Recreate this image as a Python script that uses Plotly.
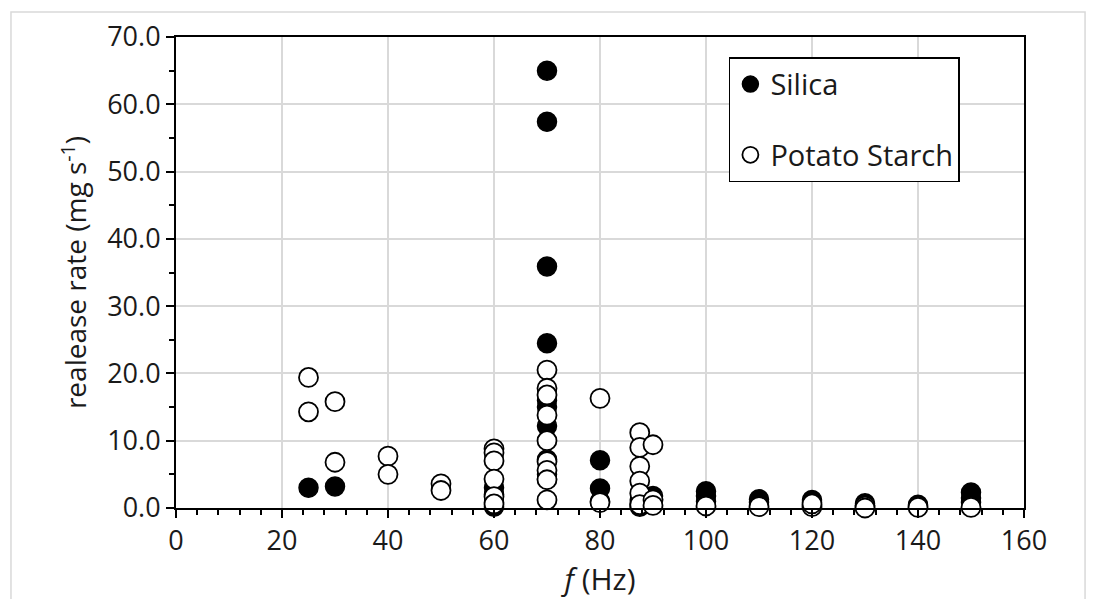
import plotly.graph_objects as go

# Silica (filled circles)
silica_f = [25, 30,
            60, 60, 60, 60,
            70, 70, 70, 70, 70, 70, 70, 70, 70, 70,
            80, 80, 80,
            87.5, 87.5, 87.5,
            90, 90,
            100, 100, 100,
            110, 110,
            120, 120,
            130, 130,
            140, 140,
            150, 150, 150]
silica_rate = [3.0, 3.2,
               3.0, 2.0, 0.8, 0.2,
               65.0, 57.4, 35.9, 24.5, 16.0, 15.0, 12.2, 7.2, 5.0, 4.3,
               7.1, 2.9, 1.0,
               1.2, 0.6, 0.2,
               1.8, 1.3,
               2.5, 1.8, 1.0,
               1.3, 0.8,
               1.2, 0.9,
               0.7, 0.4,
               0.5, 0.3,
               2.3, 1.5, 0.8]

# Potato starch (open circles)
starch_f = [25, 25, 30, 30, 40, 40, 50, 50,
            60, 60, 60, 60, 60, 60,
            70, 70, 70, 70, 70, 70, 70, 70, 70,
            80, 80,
            87.5, 87.5, 87.5, 87.5, 87.5, 87.5,
            90, 90, 90,
            100, 110, 120, 120, 130, 130, 140, 150]
starch_rate = [19.4, 14.3, 15.8, 6.8, 7.7, 5.0, 3.6, 2.6,
               8.8, 8.2, 7.0, 4.3, 1.7, 0.6,
               20.5, 17.8, 16.8, 13.8, 10.0, 6.9, 5.6, 4.2, 1.2,
               16.3, 0.8,
               11.2, 9.0, 6.2, 4.0, 2.2, 0.5,
               9.4, 1.2, 0.4,
               0.3, 0.2, 0.2, 0.6, 0.3, 0.0, 0.1, 0.1]

x_ticks = [0, 20, 40, 60, 80, 100, 120, 140, 160]
y_ticks = [0, 10, 20, 30, 40, 50, 60, 70]

FONT = "Open Sans"
TXT = "#1a1a1a"

fig = go.Figure()
fig.add_trace(go.Scatter(
    x=silica_f, y=silica_rate, mode="markers", name="Silica",
    legendgroup="a",
    marker=dict(symbol="circle", size=19, color="black",
                line=dict(color="black", width=1.5)),
    cliponaxis=False,
))
fig.add_trace(go.Scatter(
    x=starch_f, y=starch_rate, mode="markers", name="Potato Starch",
    legendgroup="b",
    marker=dict(symbol="circle", size=19, color="white",
                line=dict(color="black", width=1.8)),
    cliponaxis=False,
))

fig.update_layout(
    width=1098, height=599,
    margin=dict(l=176, r=74, t=37, b=91),
    paper_bgcolor="white", plot_bgcolor="white",
    font=dict(family=FONT, size=22, color=TXT),
    showlegend=True,
    legend=dict(
        x=0.652, y=0.957, xanchor="left", yanchor="top",
        bordercolor="black", borderwidth=1.5, bgcolor="white",
        font=dict(family=FONT, size=29, color=TXT),
        traceorder="grouped", tracegroupgap=30,
        itemsizing="trace",
        itemwidth=30,
    ),
    xaxis=dict(
        range=[0, 160], tickvals=x_ticks,
        showgrid=True, gridcolor="#d9d9d9", gridwidth=1.5,
        showline=True, linecolor="black", linewidth=2, mirror=True,
        ticks="outside", ticklen=8, tickwidth=1.5, tickcolor="black",
        minor=dict(dtick=4, ticks="outside", ticklen=5, tickwidth=1.5,
                   tickcolor="black", showgrid=False),
        zeroline=False,
        tickfont=dict(size=27, color=TXT),
        title=dict(text="<i>f</i> (Hz)", font=dict(size=30, color=TXT),
                   standoff=3),
    ),
    yaxis=dict(
        range=[0, 70], tickvals=y_ticks, tickformat=".1f",
        showgrid=True, gridcolor="#d9d9d9", gridwidth=1.5,
        showline=True, linecolor="black", linewidth=2, mirror=True,
        ticks="outside", ticklen=8, tickwidth=1.5, tickcolor="black",
        minor=dict(dtick=5, ticks="outside", ticklen=5, tickwidth=1.5,
                   tickcolor="black", showgrid=False),
        zeroline=False,
        tickfont=dict(size=27, color=TXT),
        title=dict(text="realease rate (mg s<sup>-1</sup>)",
                   font=dict(size=28, color=TXT), standoff=12),
    ),
    shapes=[dict(type="rect", xref="paper", yref="paper",
                 x0=-0.1946, x1=1.072, y0=-0.4, y1=1.053,
                 line=dict(color="#d9d9d9", width=1.5), layer="below")],
)

fig.write_html("out.html")
